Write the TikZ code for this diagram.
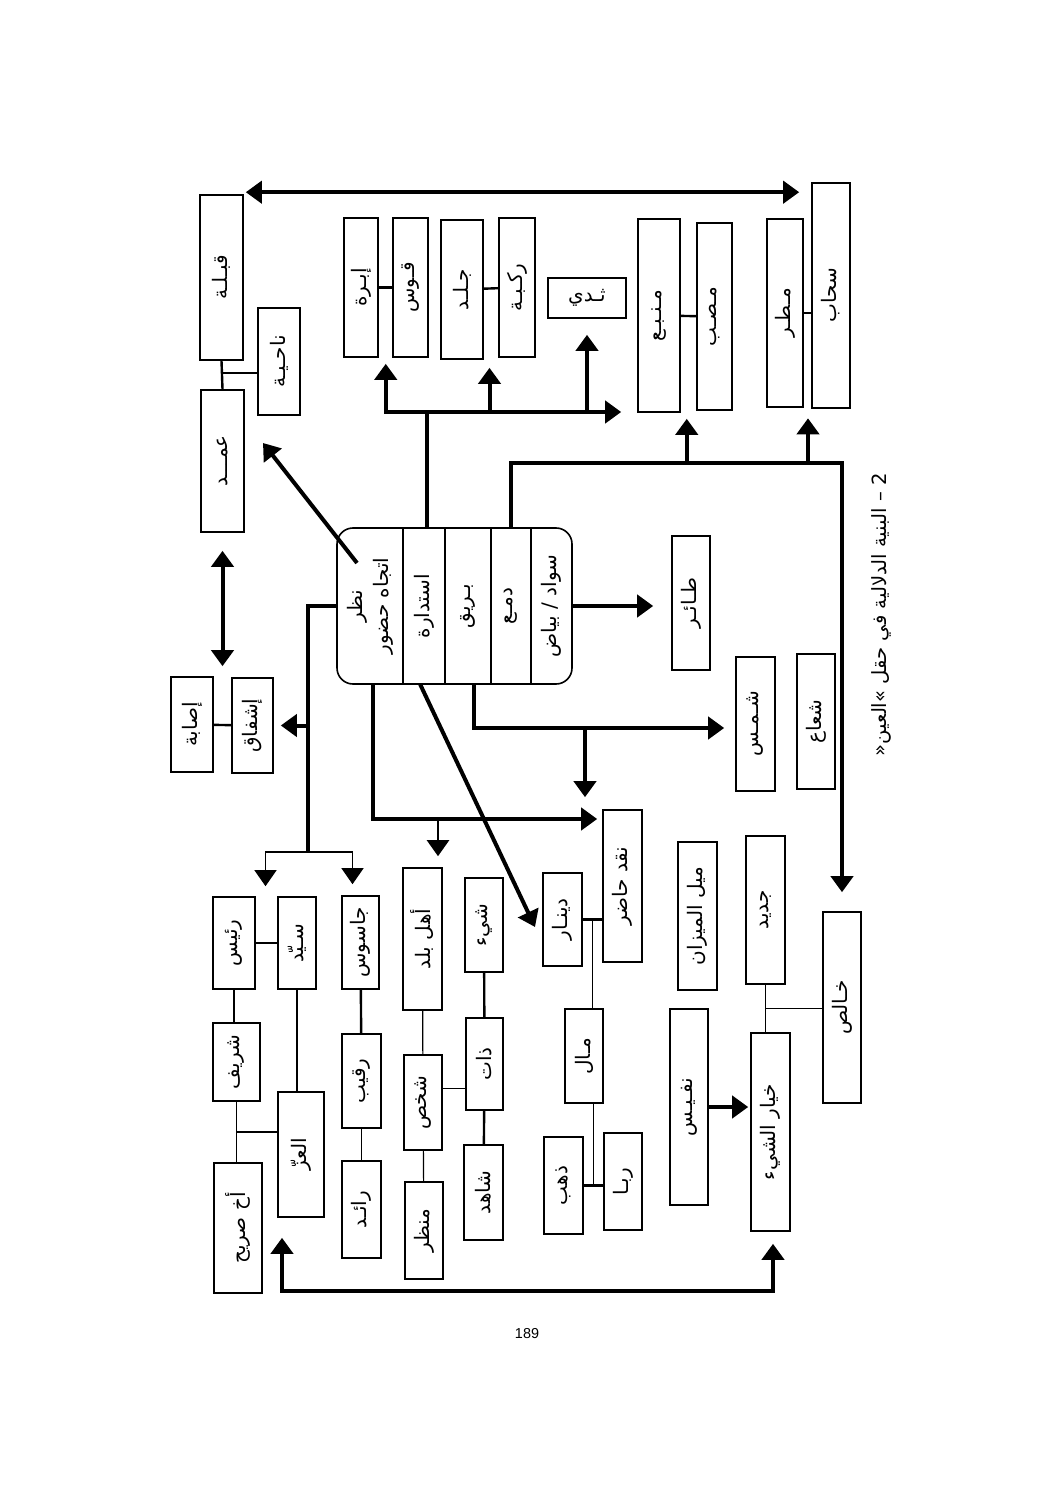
\documentclass[tikz,border=0pt]{standalone}
\usepackage{fontspec}
\usepackage{graphicx}
\usetikzlibrary{arrows.meta,calc,positioning}
\TeXXeTstate=1
\setmainfont{Liberation Sans}
\newfontfamily\arabicfont[Script=Arabic]{DejaVu Sans}
\newcommand{\artxt}[1]{\rotatebox{90}{\arabicfont\beginR #1\endR}}

\begin{document}
\begin{tikzpicture}[x=0.5pt,y=-0.5pt,>={Triangle[length=8pt,width=11pt]},
  cell/.style={draw,line width=0.8pt,inner sep=0pt,font=\fontsize{10}{12}\selectfont},
  word/.style={rotate=90,align=center,inner sep=0pt,font=\arabicfont\fontsize{10}{13}\selectfont},
  bar/.style={line width=2pt},
  link/.style={line width=1.2pt},
  fine/.style={line width=0.6pt}]
  \useasboundingbox (0,0) rectangle (1059,1497);
  \fill[white] (0,0) rectangle (1059,1497);

  \node[cell,minimum width=21.5pt,minimum height=82.5pt] (qibla) at (221.5,277.5) {\artxt{قبـلـة}};
  \node[cell,minimum width=21pt,minimum height=53.5pt] (nahiya) at (279,361.5) {\artxt{ناحـيـة}};
  \node[cell,minimum width=21.5pt,minimum height=71pt] (amad) at (222.5,461) {\artxt{عمـــد}};
  \node[cell,minimum width=17pt,minimum height=69.5pt] (ibra) at (361,287.5) {\artxt{إبـرة}};
  \node[cell,minimum width=17.5pt,minimum height=69.5pt] (qaws) at (410.5,287.5) {\artxt{قـوس}};
  \node[cell,minimum width=21pt,minimum height=69.5pt] (jild) at (462,289.5) {\artxt{جـلـد}};
  \node[cell,minimum width=18pt,minimum height=69.5pt] (rukba) at (517,287.5) {\artxt{ركـبـة}};
  \node[cell,minimum width=39pt,minimum height=20pt,font=\arabicfont\fontsize{10}{12}\selectfont] (thady) at (587,298) {\beginR ثـدي\endR};
  \node[cell,minimum width=21pt,minimum height=96.5pt] (manbaa) at (659,315.5) {\artxt{مـنـبـع}};
  \node[cell,minimum width=17.5pt,minimum height=93.5pt] (masabb) at (714.5,316.5) {\artxt{مـصـب}};
  \node[cell,minimum width=18pt,minimum height=94pt] (matar) at (785,313) {\artxt{مـطـر}};
  \node[cell,minimum width=19pt,minimum height=112.5pt] (sahab) at (831,295.5) {\artxt{سحاب}};

  \node[cell,rounded corners=8pt,minimum width=117.5pt,minimum height=78pt] (cbox) at (454.5,606) {\phantom{x}};
  \foreach \dx in {403,445,491,531}
    \draw[fine] (cbox.north -| \dx,0) -- (cbox.south -| \dx,0);
  \node[word] (nazar) at (370,606) {\beginR نظر\endR\\\beginR اتجاه حضور\endR};
  \node[word] (istidara) at (424,606) {\beginR استدارة\endR};
  \node[word] (bariq) at (468,606) {\beginR بـريق\endR};
  \node[word] (dam) at (511,606) {\beginR دمـع\endR};
  \node[word] (sawad) at (551.5,606) {\beginR سواد / بياض\endR};

  \node[cell,minimum width=21pt,minimum height=47.5pt] (isaba) at (192,724.5) {\artxt{إصابة}};
  \node[cell,minimum width=20.5pt,minimum height=47.5pt] (ishfaq) at (252.5,725.5) {\artxt{إشفاق}};
  \node[cell,minimum width=19pt,minimum height=67pt] (tair) at (691,603) {\artxt{طـائـر}};
  \node[cell,minimum width=19.5pt,minimum height=67pt] (shams) at (755.5,724) {\artxt{شـمـس}};
  \node[cell,minimum width=19pt,minimum height=67.5pt] (shuaa) at (816,721.5) {\artxt{شعاع}};
  \node[cell,minimum width=19.5pt,minimum height=76pt] (naqd) at (622.5,886) {\artxt{نقد حاضر}};
  \node[cell,minimum width=21pt,minimum height=46pt] (rais) at (234,943) {\artxt{رئيس}};
  \node[cell,minimum width=19pt,minimum height=46pt] (sayyid) at (297,943) {\artxt{سـيّد}};
  \node[cell,minimum width=18.5pt,minimum height=46.5pt] (jasus) at (360.5,942.5) {\artxt{جاسوس}};
  \node[cell,minimum width=19.5pt,minimum height=71pt] (ahl) at (422.5,939) {\artxt{أهل بلد}};
  \node[cell,minimum width=19pt,minimum height=47pt] (shay) at (484,925) {\artxt{شيء}};
  \node[cell,minimum width=19.5pt,minimum height=46.5pt] (dinar) at (562.5,919.5) {\artxt{دينـار}};
  \node[cell,minimum width=19pt,minimum height=47pt] (mal) at (584,1056) {\artxt{مـال}};
  \node[cell,minimum width=19.5pt,minimum height=48.5pt] (dhahab) at (563.5,1185.5) {\artxt{ذهب}};
  \node[cell,minimum width=19pt,minimum height=48.5pt] (riba) at (623,1181.5) {\artxt{ربـا}};
  \node[cell,minimum width=18.5pt,minimum height=46pt] (dhat) at (484.5,1064) {\artxt{ذات}};
  \node[cell,minimum width=19.5pt,minimum height=47.5pt] (shahid) at (483.5,1192.5) {\artxt{شاهد}};
  \node[cell,minimum width=19pt,minimum height=47.5pt] (shakhs) at (423,1102.5) {\artxt{شخص}};
  \node[cell,minimum width=23.5pt,minimum height=39pt] (sharif) at (236.5,1062) {\artxt{شريف}};
  \node[cell,minimum width=23pt,minimum height=62.5pt] (izz) at (301,1154.5) {\artxt{العزّ}};
  \node[cell,minimum width=24pt,minimum height=65pt] (akh) at (238,1228) {\artxt{أخ صريح}};
  \node[cell,minimum width=19.5pt,minimum height=47pt] (raqib) at (361.5,1081) {\artxt{رقيب}};
  \node[cell,minimum width=19.5pt,minimum height=48.5pt] (raid) at (361.5,1209.5) {\artxt{رائـد}};
  \node[cell,minimum width=19pt,minimum height=48.5pt] (manzar) at (424,1230.5) {\artxt{منظر}};
  \node[cell,minimum width=19.5pt,minimum height=74pt] (mayl) at (697.5,916) {\artxt{ميل الميزان}};
  \node[cell,minimum width=19.5pt,minimum height=74pt] (jadid) at (765.5,910) {\artxt{جديد}};
  \node[cell,minimum width=19pt,minimum height=95.5pt] (khalis) at (842,1007.5) {\artxt{خـالص}};
  \node[cell,minimum width=19pt,minimum height=98pt] (nafis) at (689,1107) {\artxt{نفـيـس}};
  \node[cell,minimum width=19.5pt,minimum height=99pt] (khiyar) at (770.5,1132) {\artxt{خيار الشيء}};

  \node[rotate=90,anchor=east,inner sep=0pt,font=\arabicfont\fontsize{9.8}{12}\selectfont] (caption) at (881,473) {\beginR 2 – البنية الدلالية في حقل »العين«\endR};
  \node[font=\fontsize{7.2}{9}\selectfont] (pnum) at (527,1334) {189};

  \draw[bar,<->,shorten <=1pt,shorten >=6pt] ([yshift=1pt]qibla.north east) -- ([yshift=1pt]qibla.north east -| sahab.west);
  \draw[link] (qibla.south) -- coordinate[pos=.43] (qa) (amad.north);
  \draw[link] (qa) -- (qa -| nahiya.west);
  \draw[link] (ibra) -- (qaws);
  \draw[link] (jild) -- (rukba);
  \draw[link] (manbaa) -- (masabb);
  \draw[link] (matar.east) -- (matar.east -| sahab.west);

  \coordinate (up) at (427,412);
  \coordinate (p1) at ($(ibra.south)!.5!(qaws.south)$);
  \coordinate (p2) at ($(jild.south)!.5!(rukba.south)$);
  \draw[bar] (cbox.north -| up) -- (up);
  \draw[bar,<->,shorten <=3pt,shorten >=8pt] (p1) -- (p1 |- up) -- (up -| manbaa.west);
  \draw[bar,->,shorten >=4.5pt] (p2 |- up) -- (p2);
  \draw[bar,->,shorten >=8pt] (thady.south |- up) -- (thady.south);

  \coordinate (rt) at (511,463);
  \coordinate (p3) at ($(manbaa.south)!.5!(masabb.south)$);
  \coordinate (p4) at ($(matar.south)!.5!(sahab.south)$);
  \draw[bar,->,shorten >=9.5pt] (cbox.north -| rt) -- (rt) -- (rt -| khalis.north) -- (khalis.north);
  \draw[bar,->,shorten >=3.5pt] (p3 |- rt) -- (p3);
  \draw[bar,->,shorten >=5pt] (p4 |- rt) -- (p4);

  \coordinate (lt) at (308,852);
  \draw[bar] (cbox.west) -- (cbox.west -| lt) -- (lt);
  \draw[bar,->,shorten >=3.5pt] (lt |- ishfaq.east) -- (ishfaq.east);
  \draw[link] (isaba) -- (ishfaq);
  \draw[bar,<->,shorten <=9pt,shorten >=5pt] (amad.south) -- (amad.south |- isaba.north);
  \coordinate (p5) at ($(rais.north)!.5!(sayyid.north)$);
  \coordinate (p6) at ([xshift=-4pt]jasus.north);
  \draw[fine,<->,shorten <=5pt,shorten >=5.5pt] (p5) -- (p5 |- lt) -- (p6 |- lt) -- (p6);

  \coordinate (d1) at (357,563);
  \coordinate (d2) at (263,443);
  \draw[bar,->] (d1) -- (d2);
  \coordinate (d3) at (420,684);
  \coordinate (d4) at (535,927);
  \draw[bar,->] (d3) -- (d4);

  \coordinate (bl) at (373,819);
  \draw[bar,->,shorten >=2.5pt] (cbox.south -| bl) -- (bl) -- (bl -| naqd.west);
  \coordinate (p7) at (438,819);
  \draw[link,->,shorten >=5.5pt] (p7) -- (p7 |- ahl.north);
  \coordinate (br) at (474,728);
  \draw[bar,->,shorten >=5.5pt] (cbox.south -| br) -- (br) -- (br -| shams.west);
  \coordinate (p8) at (585,728);
  \draw[bar,->,shorten >=6pt] (p8) -- (p8 |- naqd.north);
  \draw[bar,->,shorten >=9pt] (cbox.east) -- (cbox.east -| tair.west);

  \draw[link] (rais) -- (sayyid);
  \draw[fine] (rais.south) -- (rais.south |- sharif.north);
  \draw[fine] (sayyid.south) -- (sayyid.south |- izz.north);
  \draw[fine] (sharif.south) -- coordinate (sa) (sharif.south |- akh.north);
  \draw[fine] (sa) -- (sa -| izz.west);
  \draw[link] (jasus) -- (raqib);
  \draw[fine] (raqib) -- (raid);
  \draw[fine] (ahl) -- (shakhs);
  \draw[fine] (shakhs) -- (manzar);
  \draw[fine] ([yshift=7pt]shakhs.east) -- ([yshift=7pt]shakhs.east -| dhat.west);
  \draw[link] (shay) -- (dhat);
  \draw[link] (dhat) -- (shahid);
  \draw[link] (dinar.east) -- coordinate (dn) (dinar.east -| naqd.west);
  \draw[fine] (dn) -- (dn |- mal.north);
  \draw[link] (dhahab.east) -- coordinate (dr) (dhahab.east -| riba.west);
  \draw[fine] (dr) -- (dr |- mal.south);
  \draw[fine] (jadid.south) -- coordinate (jk) (jadid.south |- khiyar.north);
  \draw[fine] (jk) -- (jk -| khalis.west);
  \draw[bar,->,shorten >=1pt] (nafis.east) -- (nafis.east -| khiyar.west);

  \coordinate (q1) at (282,1291);
  \coordinate (q2) at (773,1291);
  \draw[bar,<->,shorten <=10pt,shorten >=6pt] (izz.south -| q1) -- (q1) -- (q2) -- (khiyar.south -| q2);
\end{tikzpicture}
\end{document}
